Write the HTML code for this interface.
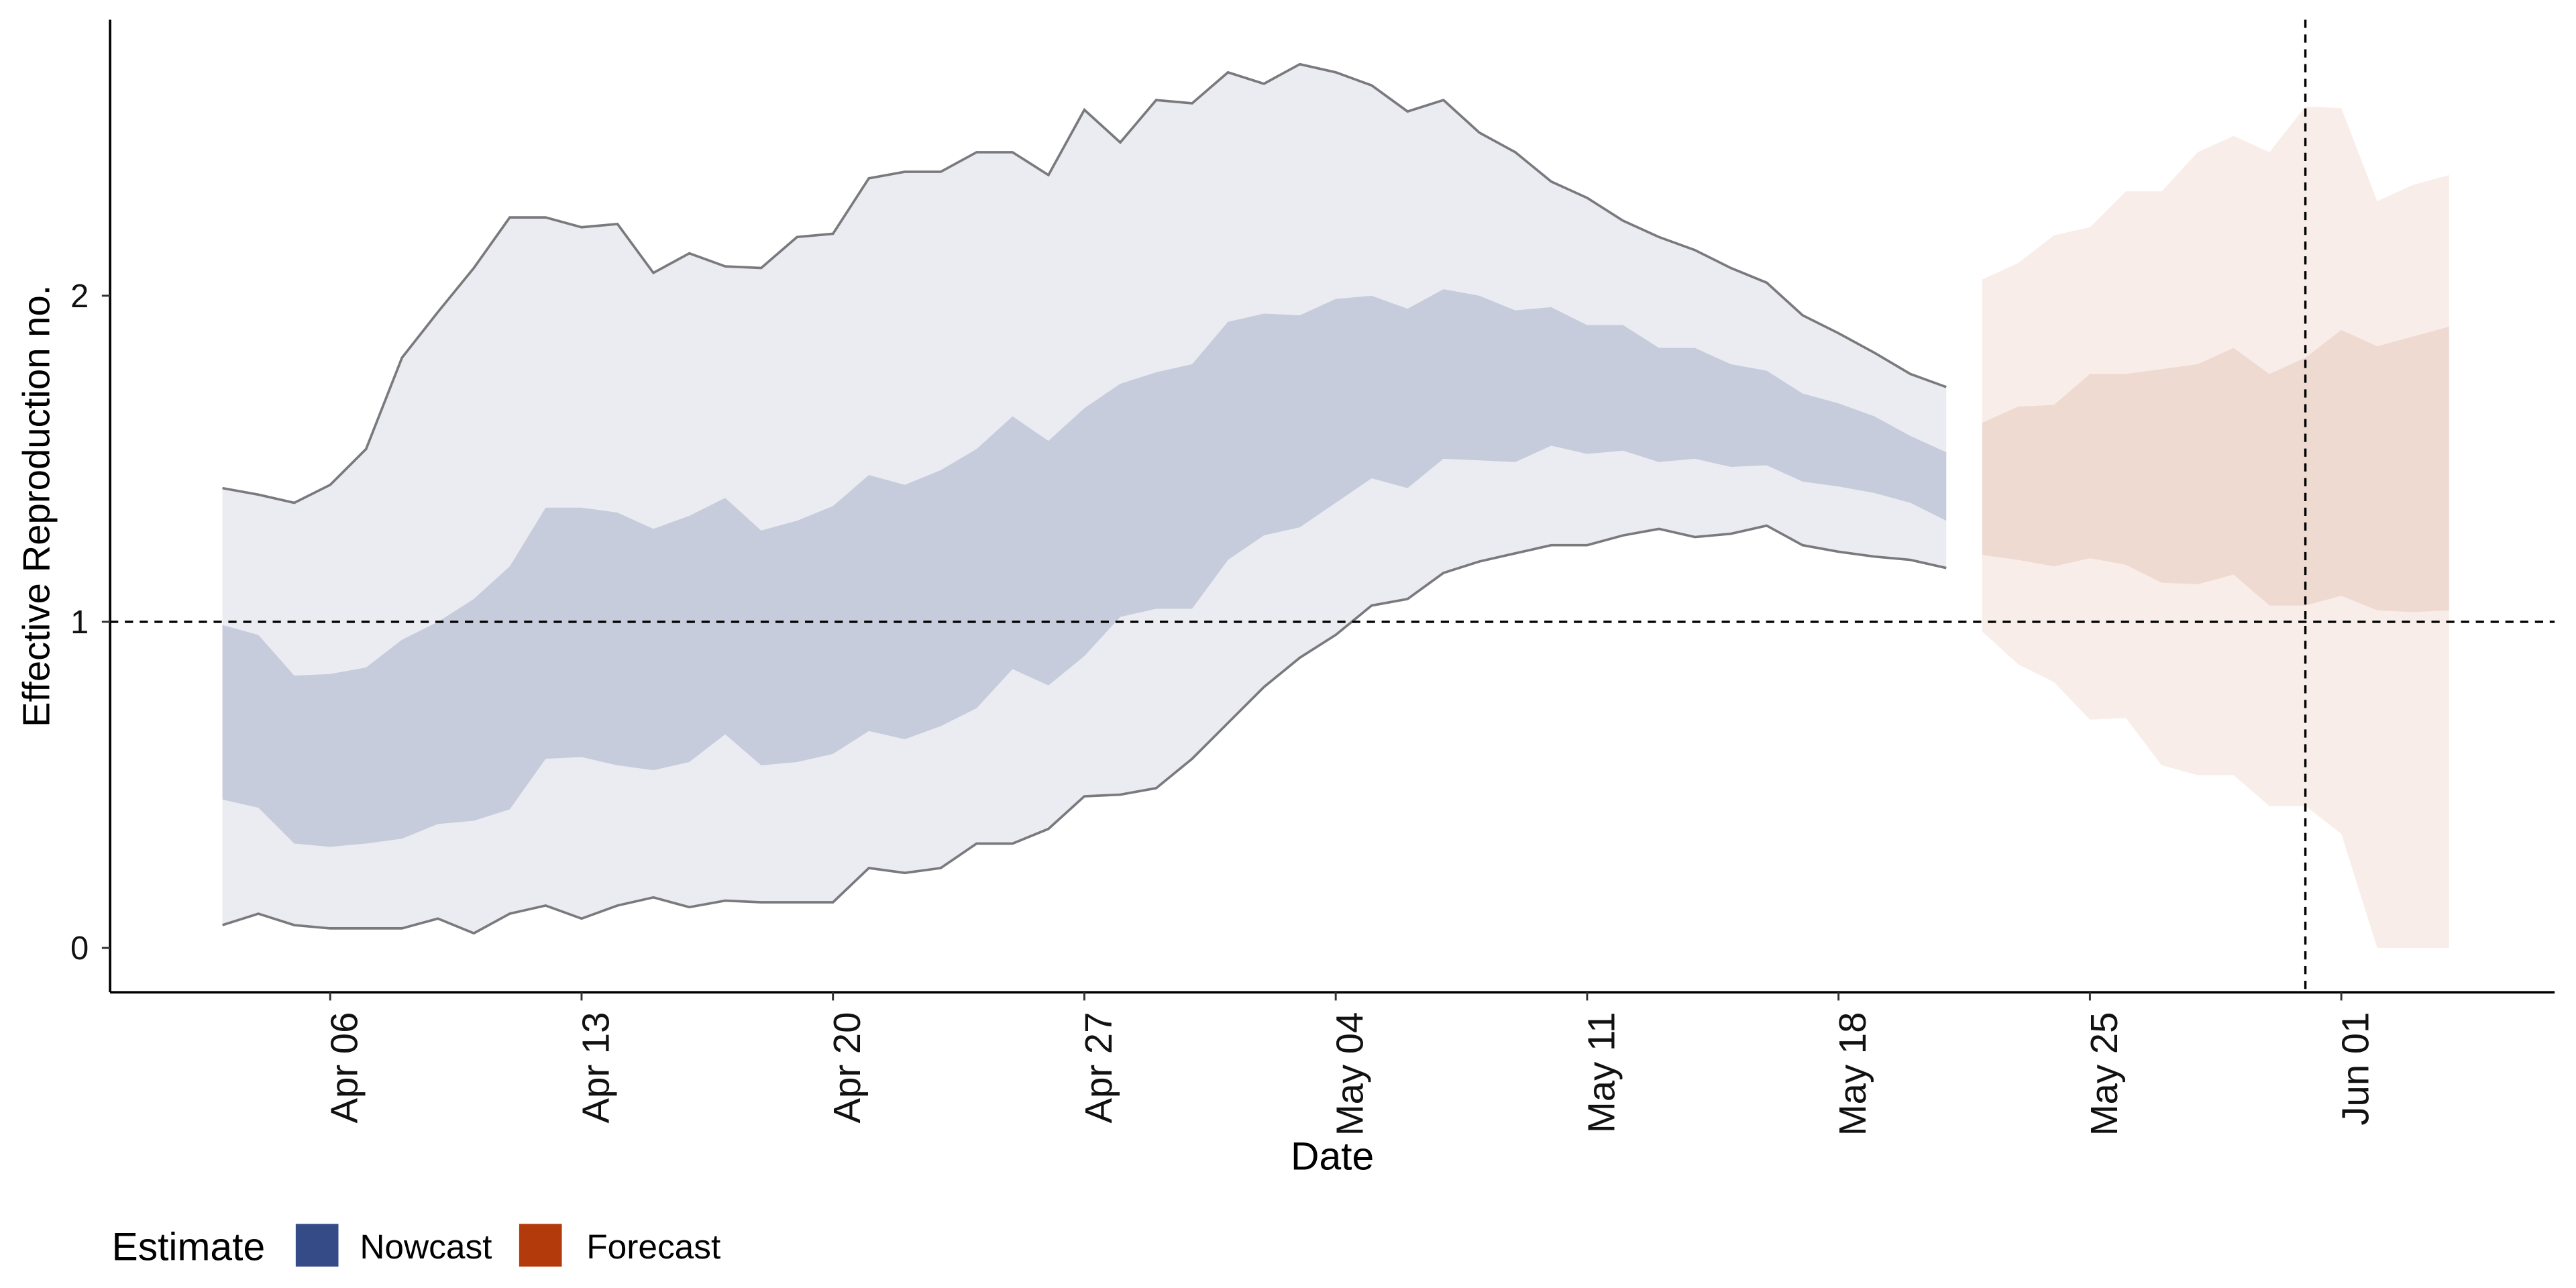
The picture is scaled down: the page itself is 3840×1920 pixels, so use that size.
<!DOCTYPE html>
<html><head><meta charset="utf-8"><style>html,body{margin:0;padding:0;background:#fff}svg{display:block}text{font-family:"Liberation Sans",sans-serif}</style></head>
<body>
<svg id="chart" width="3840" height="1920" viewBox="0 0 1568 784" xmlns="http://www.w3.org/2000/svg">
<g id="plot"></g>
</svg>
<script>
const nowOuterUpper=[1.41,1.39,1.365,1.42,1.53,1.81,1.95,2.085,2.24,2.24,2.21,2.22,2.07,2.13,2.09,2.085,2.18,2.19,2.36,2.38,2.38,2.44,2.44,2.37,2.57,2.47,2.6,2.59,2.685,2.65,2.71,2.685,2.645,2.565,2.6,2.5,2.44,2.35,2.3,2.23,2.18,2.14,2.085,2.04,1.94,1.885,1.825,1.76,1.72];
const nowOuterLower=[0.07,0.105,0.07,0.06,0.06,0.06,0.09,0.045,0.105,0.13,0.09,0.13,0.155,0.125,0.145,0.14,0.14,0.14,0.245,0.23,0.245,0.32,0.32,0.365,0.465,0.47,0.49,0.58,0.69,0.8,0.89,0.96,1.05,1.07,1.15,1.185,1.21,1.235,1.235,1.265,1.285,1.26,1.27,1.295,1.235,1.215,1.2,1.19,1.165];
const nowInnerUpper=[0.99,0.96,0.835,0.84,0.86,0.945,1.0,1.07,1.17,1.35,1.35,1.335,1.285,1.325,1.38,1.28,1.31,1.355,1.45,1.42,1.465,1.53,1.63,1.555,1.655,1.73,1.765,1.79,1.92,1.945,1.94,1.99,2.0,1.96,2.02,2.0,1.955,1.965,1.91,1.91,1.84,1.84,1.79,1.77,1.7,1.67,1.63,1.57,1.52];
const nowInnerLower=[0.455,0.43,0.32,0.31,0.32,0.335,0.38,0.39,0.425,0.58,0.585,0.56,0.545,0.57,0.655,0.56,0.57,0.595,0.665,0.64,0.68,0.735,0.855,0.805,0.895,1.015,1.04,1.04,1.19,1.265,1.29,1.365,1.44,1.41,1.5,1.495,1.49,1.54,1.515,1.525,1.49,1.5,1.475,1.48,1.43,1.415,1.395,1.365,1.31];
const foreOuterUpper=[2.05,2.1,2.185,2.21,2.32,2.32,2.44,2.49,2.44,2.58,2.575,2.29,2.34,2.37];
const foreOuterLower=[0.97,0.87,0.815,0.7,0.705,0.56,0.53,0.53,0.435,0.435,0.35,0,0,0];
const foreInnerUpper=[1.61,1.66,1.665,1.76,1.76,1.775,1.79,1.84,1.76,1.81,1.895,1.845,1.875,1.905];
const foreInnerLower=[1.205,1.19,1.17,1.195,1.175,1.12,1.115,1.145,1.05,1.05,1.08,1.035,1.03,1.035];
const yTicks=[0,1,2];
const xTickLabels=["Apr 06","Apr 13","Apr 20","Apr 27","May 04","May 11","May 18","May 25","Jun 01"];
const xTickDays=[3,10,17,24,31,38,45,52,59];
const forecastStartDay=49;
const vlineDay=58;

const NS="http://www.w3.org/2000/svg";
const svg=document.getElementById('chart');
const X=d=>135.4+d*21.86;
const Y=v=>577-v*198.5;
function mk(tag,attrs,parent){const e=document.createElementNS(NS,tag);for(const k in attrs)e.setAttribute(k,attrs[k]);(parent||svg).appendChild(e);return e;}
function band(up,lo,off,fill,name){
  let pts=up.map((v,i)=>X(i+off)+','+Y(v));
  for(let i=lo.length-1;i>=0;i--)pts.push(X(i+off)+','+Y(lo[i]));
  const p=mk('polygon',{points:pts.join(' '),fill:fill});
  
  
}
function line(arr,off,name){
  const p=mk('polyline',{points:arr.map((v,i)=>X(i+off)+','+Y(v)).join(' '),fill:'none',stroke:'#7a7a7e','stroke-width':1.5});
  
  
}
band(nowOuterUpper,nowOuterLower,0,'#ebecf1','nowcast-90-band');
band(nowInnerUpper,nowInnerLower,0,'#c6ccdc','nowcast-50-band');
band(foreOuterUpper,foreOuterLower,forecastStartDay,'#f8ede9','forecast-90-band');
band(foreInnerUpper,foreInnerLower,forecastStartDay,'#efdad1','forecast-50-band');
line(nowOuterUpper,0,'nowcast-upper-line');
line(nowOuterLower,0,'nowcast-lower-line');
let h=mk('line',{x1:67,x2:1555,y1:Y(1),y2:Y(1),stroke:'#000','stroke-width':1.4,'stroke-dasharray':'5,4'});


let vl=mk('line',{x1:X(vlineDay),x2:X(vlineDay),y1:12,y2:604,stroke:'#000','stroke-width':1.4,'stroke-dasharray':'5,4'});


let ya=mk('line',{x1:67,x2:67,y1:12,y2:604,stroke:'#000','stroke-width':1.5});


let xa=mk('line',{x1:67,x2:1555,y1:604,y2:604,stroke:'#000','stroke-width':1.5});


yTicks.forEach(v=>{
  const t=mk('line',{x1:62,x2:67,y1:Y(v),y2:Y(v),stroke:'#333','stroke-width':1.2});
  
  
  const l=mk('text',{x:54,y:Y(v)+7,'text-anchor':'end','font-size':20,fill:'#111'});
  l.textContent=v;
  
  
});
xTickDays.forEach((d,i)=>{
  const x=X(d);
  const t=mk('line',{x1:x,x2:x,y1:604,y2:609,stroke:'#333','stroke-width':1.2});
  
  
  const l=mk('text',{x:0,y:0,'text-anchor':'end','font-size':23,fill:'#111',transform:`translate(${x+16.5},616) rotate(-90)`});
  l.textContent=xTickLabels[i];
  
  
});
</script>
<svg style="position:absolute;left:0;top:0" width="3840" height="1920" viewBox="0 0 1568 784" xmlns="http://www.w3.org/2000/svg">
<text x="811" y="712" text-anchor="middle" font-size="24" fill="#000">Date</text>
<text transform="translate(30,308) rotate(-90)" text-anchor="middle" font-size="23" fill="#000">Effective Reproduction no.</text>
<text x="68" y="767" font-size="24" fill="#000">Estimate</text>
<rect x="180" y="745" width="26" height="26" fill="#344b87"/>
<text x="219" y="766" font-size="21" fill="#000">Nowcast</text>
<rect x="316" y="745" width="26" height="26" fill="#b33a0b"/>
<text x="357" y="766" font-size="21" fill="#000">Forecast</text>
</svg>
</body></html>
